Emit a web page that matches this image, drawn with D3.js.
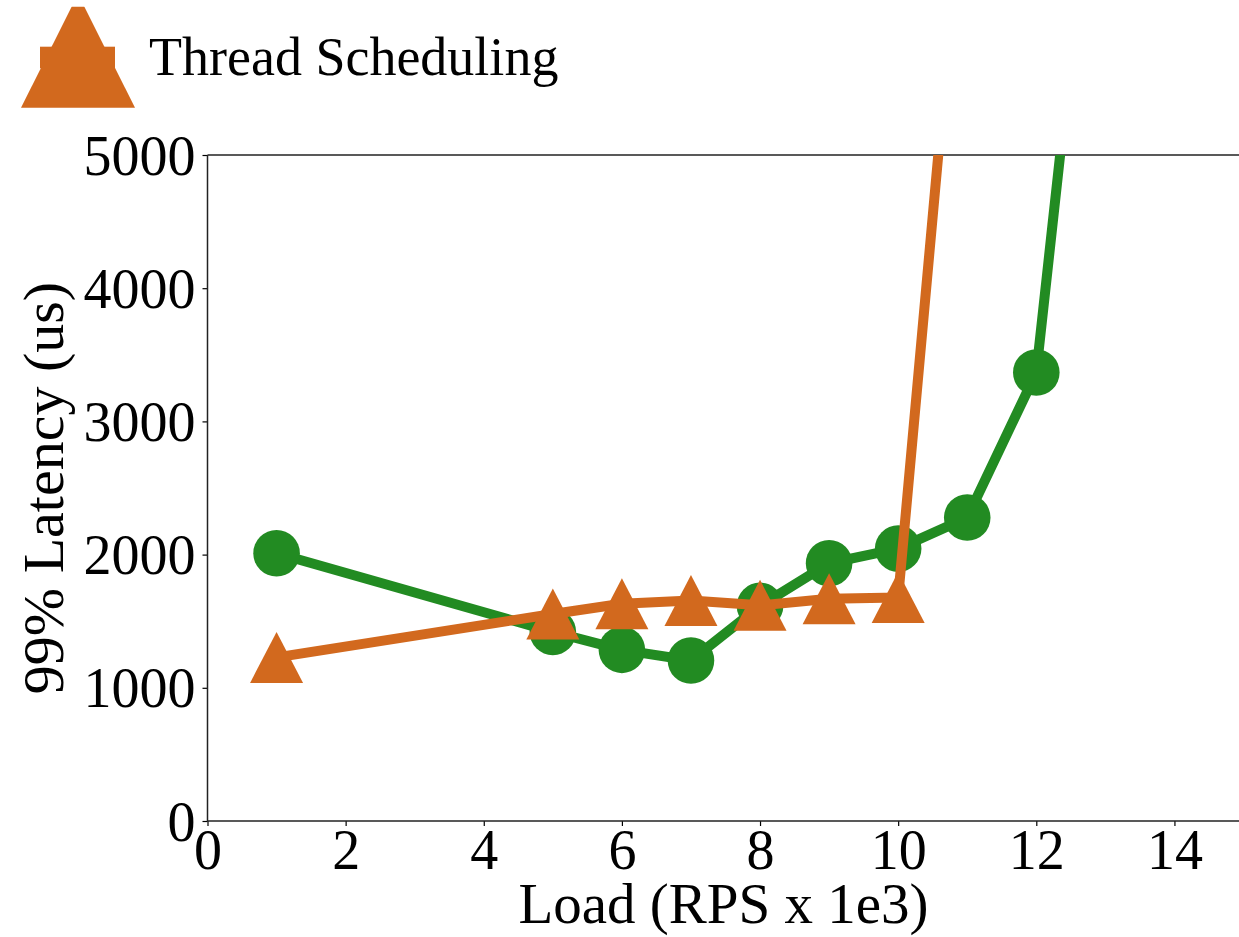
<!DOCTYPE html>
<html>
<head>
<meta charset="utf-8">
<script src="https://cdn.jsdelivr.net/npm/d3@7"></script>
<style>
  html, body { margin: 0; padding: 0; background: #fff; overflow: hidden; }
  svg { display: block; }
  text { font-family: "Liberation Serif", "Times New Roman", serif; fill: #000; }
</style>
</head>
<body>
<svg id="chart" width="1239" height="937"></svg>
<script>
// ---- data ----
const xTicks = [0, 2, 4, 6, 8, 10, 12, 14];
const yTicks = [0, 1000, 2000, 3000, 4000, 5000];

const greenLoads = [1, 5, 6, 7, 8, 9, 10, 11, 12, 13];
const greenLatency = [2010, 1420, 1285, 1205, 1615, 1935, 2045, 2278, 3367, 8100];

const threadLoads = [1, 5, 6, 7, 8, 9, 10, 11];
const threadLatency = [1228, 1554, 1631, 1656, 1619, 1668, 1678, 7400];

const legendLabel = "Thread Scheduling";
const xLabel = "Load (RPS x 1e3)";
const yLabel = "99% Latency (us)";

// ---- layout ----
const plot = { left: 207.5, right: 1243.5, top: 155, bottom: 821 };
const green = "#228B22", orange = "#D2691E";

const svg = d3.select("#chart");
const x = d3.scaleLinear().domain([0, 15]).range([plot.left, plot.right]);
const y = d3.scaleLinear().domain([0, 5000]).range([plot.bottom, plot.top]);

svg.append("defs").append("clipPath").attr("id", "clip")
  .append("rect")
  .attr("x", plot.left).attr("y", plot.top)
  .attr("width", plot.right - plot.left).attr("height", plot.bottom - plot.top);

// axes
const xAxis = svg.append("g").attr("transform", `translate(0,${plot.bottom})`)
  .call(d3.axisBottom(x).tickValues(xTicks).tickSize(5).tickPadding(0).tickFormat(d3.format("d")));
const yAxis = svg.append("g").attr("transform", `translate(${plot.left},0)`)
  .call(d3.axisLeft(y).tickValues(yTicks).tickSize(5).tickPadding(7).tickFormat(d3.format("d")));
[xAxis, yAxis].forEach(g => {
  g.select(".domain").remove();
  g.selectAll(".tick line").attr("stroke", "#000").attr("stroke-width", 1.2);
  g.selectAll(".tick text").style("font-size", "56px").attr("fill", "#000")
    .style("font-family", '"Liberation Serif", serif');
});
xAxis.selectAll(".tick text").attr("dy", "0.76em");
yAxis.selectAll(".tick text").attr("dy", "0.34em");

// spines
const spines = svg.append("g").attr("stroke", "#222").attr("stroke-width", 1.5).attr("fill", "none");
spines.append("line").attr("x1", plot.left).attr("x2", plot.left).attr("y1", plot.top).attr("y2", plot.bottom);
spines.append("line").attr("x1", plot.left).attr("x2", plot.right).attr("y1", plot.bottom).attr("y2", plot.bottom);
spines.append("line").attr("x1", plot.left).attr("x2", plot.right).attr("y1", plot.top).attr("y2", plot.top);

// series
const area = svg.append("g").attr("clip-path", "url(#clip)");
const line = d3.line().x(d => x(d[0])).y(d => y(d[1]));

function triPath(w, h) {
  return `M0,${-h / 2}L${w / 2},${h / 2}L${-w / 2},${h / 2}Z`;
}

const gData = greenLoads.map((l, i) => [l, greenLatency[i]]);
const tData = threadLoads.map((l, i) => [l, threadLatency[i]]);

const gG = area.append("g");
gG.append("path").datum(gData).attr("d", line)
  .attr("fill", "none").attr("stroke", green).attr("stroke-width", 10).attr("stroke-linejoin", "round");
gG.selectAll("circle").data(gData).join("circle")
  .attr("cx", d => x(d[0])).attr("cy", d => y(d[1])).attr("r", 23.3).attr("fill", green);

const tG = area.append("g");
tG.append("path").datum(tData).attr("d", line)
  .attr("fill", "none").attr("stroke", orange).attr("stroke-width", 10).attr("stroke-linejoin", "round");
tG.selectAll("path.mk").data(tData).join("path").attr("class", "mk")
  .attr("transform", d => `translate(${x(d[0])},${y(d[1])})`)
  .attr("d", triPath(53, 51)).attr("fill", orange);

// axis labels
svg.append("text").attr("x", (plot.left + plot.right) / 2 - 2).attr("y", 923)
  .attr("text-anchor", "middle").style("font-size", "57px").text(xLabel);
svg.append("text").attr("transform", `translate(63,${(plot.top + plot.bottom) / 2}) rotate(-90)`)
  .attr("text-anchor", "middle").style("font-size", "58px").text(yLabel);

// legend (top portion of figure is cropped)
svg.append("clipPath").attr("id", "legclip").append("rect")
  .attr("x", 0).attr("y", 6.7).attr("width", 300).attr("height", 140);
const leg = svg.append("g").attr("clip-path", "url(#legclip)");
leg.append("rect").attr("x", 40).attr("y", 46.7).attr("width", 75).attr("height", 21.6).attr("fill", orange);
leg.append("path").attr("transform", "translate(78,50.9)").attr("d", triPath(114, 113.6)).attr("fill", orange);
svg.append("text").attr("x", 149).attr("y", 75).style("font-size", "54px").text(legendLabel);
</script>
</body>
</html>
